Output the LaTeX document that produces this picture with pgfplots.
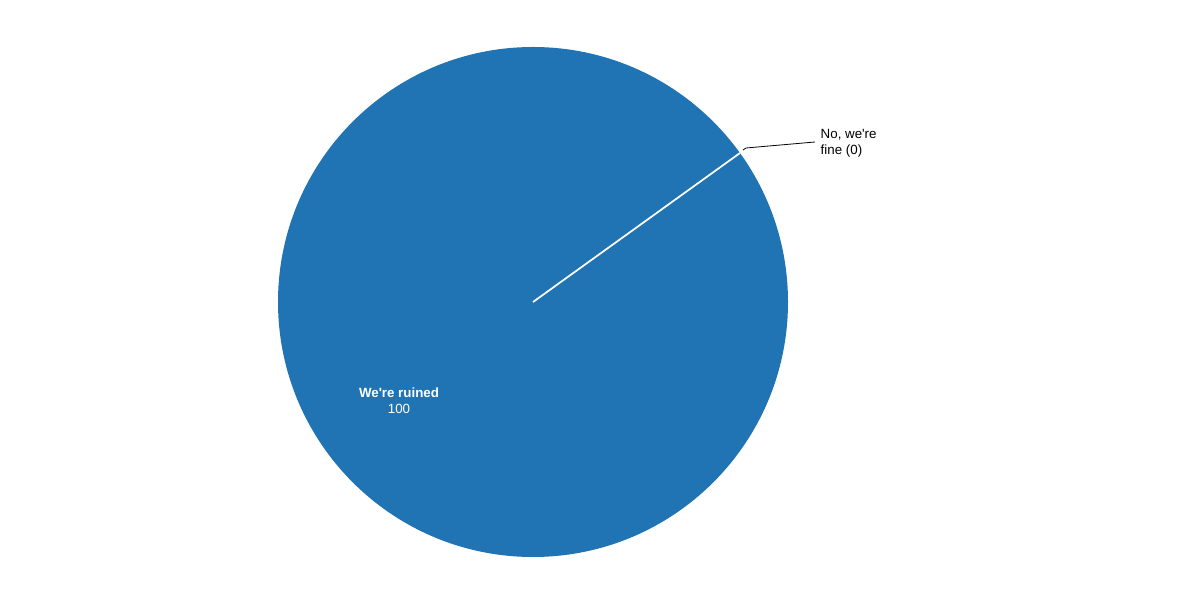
\documentclass[border=0pt]{standalone}
\usepackage{pgfplots}
\pgfplotsset{compat=1.18}
\usepackage{fontspec}
\setmainfont{Liberation Sans}[Ligatures=TeXOff]
\definecolor{pieblue}{RGB}{33,116,180}

\begin{document}
\begin{tikzpicture}
\begin{axis}[
  scale only axis,
  width=900pt, height=450pt,
  xmin=0, xmax=1200, ymin=0, ymax=600,
  hide axis, clip=false,
]
% keep the page at the full chart size
\path (axis cs:0,0) rectangle (axis cs:1200,600);

% slice "We're ruined" = 100 (the whole disc)
\fill[pieblue] (axis cs:533,298) circle[radius=255];

% slice "No, we're fine" = 0 (a white edge only)
\addplot[white, line width=1.3pt, mark=none] coordinates {
  (533, 298)
  (740, 447)
};

% leader line to the outside label
\addplot[black, line width=0.6pt, mark=none] coordinates {
  (743, 450)
  (746, 452)
  (815, 458)
};

\node[anchor=west, align=left, font=\fontsize{10}{12}\selectfont, text=black]
  at (axis cs:816,457) {No, we're\\fine (0)};

\node[white, font=\fontsize{10}{12}\selectfont\bfseries] at (axis cs:399,207) {We're ruined};
\node[white, font=\fontsize{10}{12}\selectfont] at (axis cs:399,191) {100};
\end{axis}
\end{tikzpicture}
\end{document}
